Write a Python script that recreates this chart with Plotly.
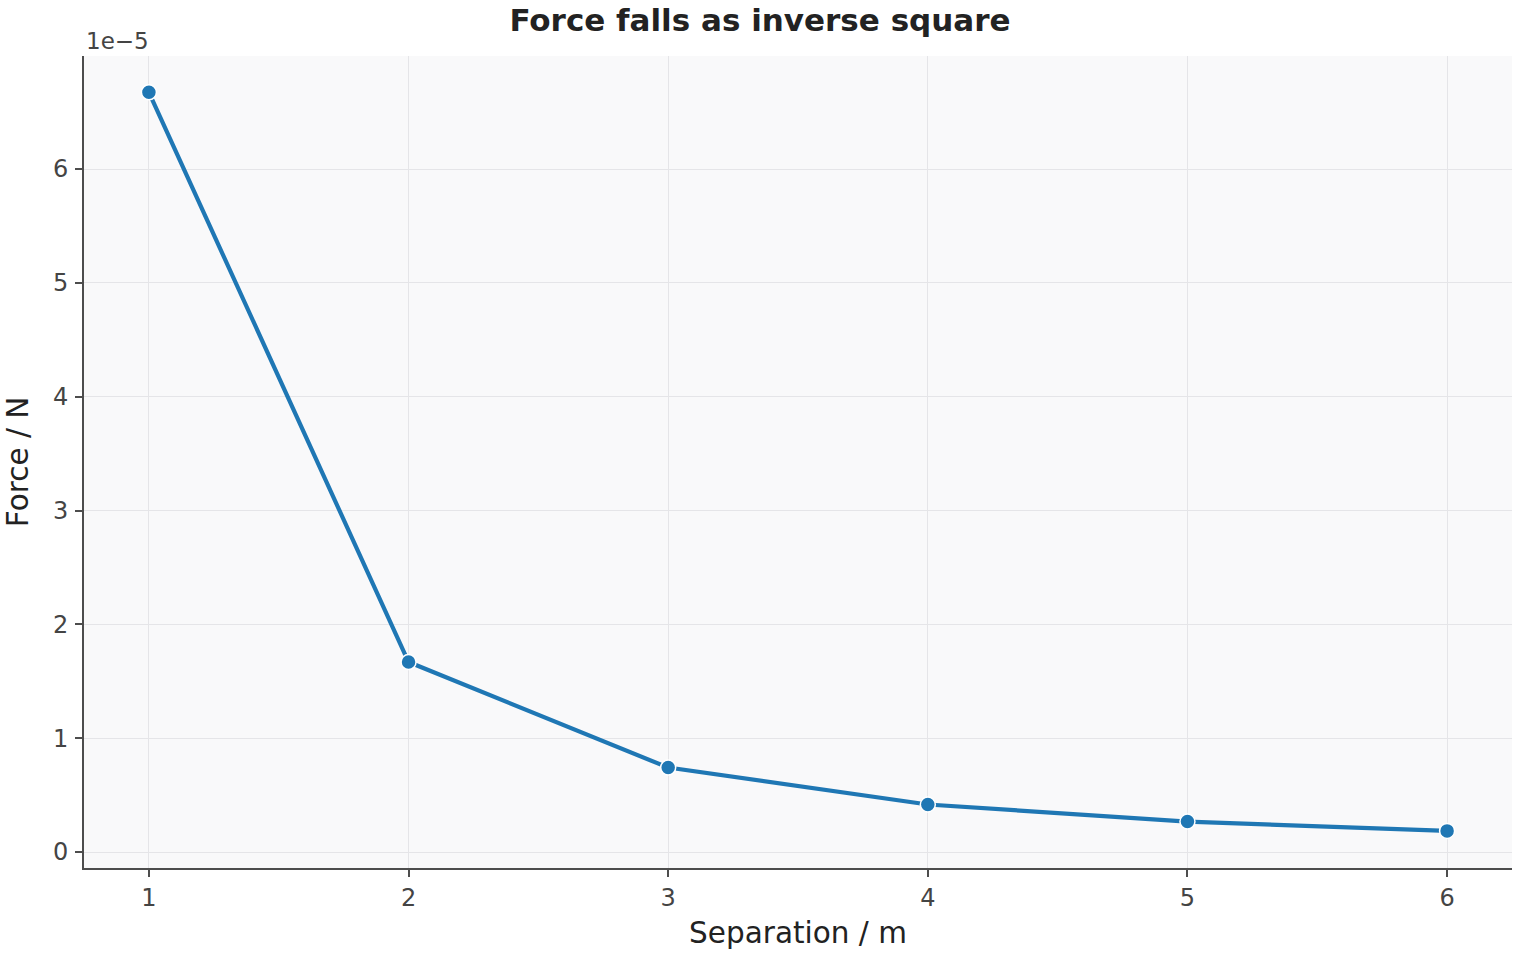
import plotly.graph_objects as go

separation_m = [1, 2, 3, 4, 5, 6]
force_N = [6.674e-5, 1.6685e-5, 7.416e-6, 4.171e-6, 2.670e-6, 1.854e-6]
y_tick_vals = [0, 1e-5, 2e-5, 3e-5, 4e-5, 5e-5, 6e-5]
y_tick_text = ["0", "1", "2", "3", "4", "5", "6"]
x_tick_vals = [1, 2, 3, 4, 5, 6]

FONT = "DejaVu Sans"
AX = "#4d4d4d"

fig = go.Figure()
fig.add_trace(go.Scatter(
    x=separation_m, y=force_N, mode="lines+markers",
    line=dict(color="#1f77b4", width=4.2),
    marker=dict(size=15, color="#1f77b4", line=dict(color="white", width=1.5)),
    showlegend=False,
))

fig.update_layout(
    width=1520, height=960,
    margin=dict(l=84, r=8, t=56, b=92),
    paper_bgcolor="white", plot_bgcolor="#f9f9fa",
    font=dict(family=FONT, color="#444444", size=24),
    title=dict(text="<b>Force falls as inverse square</b>", x=0.5, xanchor="center",
               y=1 - 20 / 960, yanchor="middle",
               font=dict(family=FONT, size=31, color="#222222")),
    xaxis=dict(
        range=[0.75, 6.25], tickvals=x_tick_vals,
        showline=True, linecolor=AX, linewidth=2, mirror=False,
        ticks="outside", ticklen=7, tickwidth=2, tickcolor=AX,
        showgrid=True, gridcolor="#e5e5e8", gridwidth=1, zeroline=False,
        tickfont=dict(size=24, color="#444444"),
        title=dict(text="Separation / m", font=dict(size=29.5, color="#222222"), standoff=12),
    ),
    yaxis=dict(
        range=[-0.1406e-5, 6.993e-5], tickvals=y_tick_vals, ticktext=y_tick_text,
        showline=True, linecolor=AX, linewidth=2, mirror=False,
        ticks="outside", ticklen=7, tickwidth=2, tickcolor=AX,
        showgrid=True, gridcolor="#e5e5e8", gridwidth=1, zeroline=False,
        tickfont=dict(size=24, color="#444444"),
        ticklabelstandoff=2,
        title=dict(text="Force / N", font=dict(size=29.5, color="#222222"), standoff=16),
    ),
)

fig.add_annotation(
    text="1e\u22125", xref="paper", yref="paper", x=0, y=1, xanchor="left", yanchor="bottom",
    yshift=0, showarrow=False, font=dict(family=FONT, size=23, color="#444444"),
)

fig.write_html("out.html")
